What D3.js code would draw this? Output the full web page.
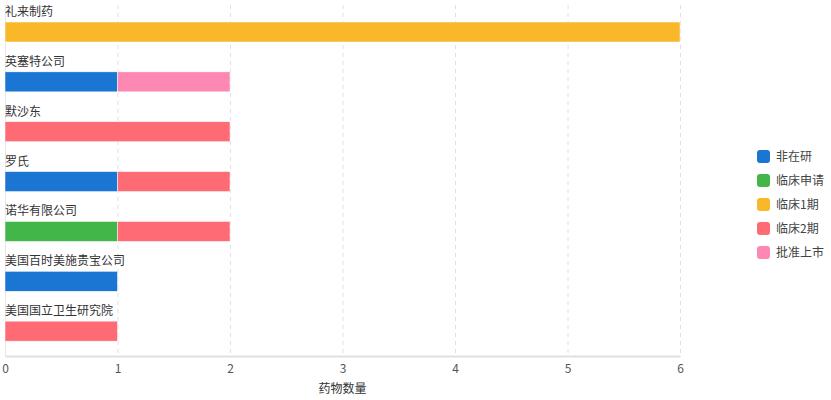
<!DOCTYPE html>
<html>
<head>
<meta charset="utf-8">
<script src="https://cdn.jsdelivr.net/npm/d3@7"></script>
<style>
  html, body { margin: 0; padding: 0; background: #fff; }
  svg { display: block; font-family: "Noto Sans CJK SC", "Noto Sans", sans-serif; }
</style>
</head>
<body>
<svg id="chart" width="831" height="400"></svg>
<script>
// Companies (top to bottom) and drug counts per development stage
const companies = ["礼来制药", "英塞特公司", "默沙东", "罗氏", "诺华有限公司", "美国百时美施贵宝公司", "美国国立卫生研究院"];
const stages = ["非在研", "临床申请", "临床1期", "临床2期", "批准上市"];
const stageColors = ["#1a76d2", "#43b649", "#f8b82a", "#fe6b74", "#fd88b4"];
const s_notActive   = [0, 1, 0, 1, 0, 1, 0];
const s_application = [0, 0, 0, 0, 1, 0, 0];
const s_phase1      = [6, 0, 0, 0, 0, 0, 0];
const s_phase2      = [0, 0, 2, 1, 1, 0, 1];
const s_approved    = [0, 1, 0, 0, 0, 0, 0];
const xTicks = [0, 1, 2, 3, 4, 5, 6];
const xTitle = "药物数量";

const seriesValues = [s_notActive, s_application, s_phase1, s_phase2, s_approved];
const rows = companies.map((c, i) => {
  const r = { company: c };
  stages.forEach((s, k) => { r[s] = seriesValues[k][i]; });
  return r;
});

const svg = d3.select("#chart");
const margin = { left: 5, right: 151, top: 7, bottom: 44 };
const W = 831, H = 400;

const x = d3.scaleLinear().domain([0, 6]).range([margin.left, W - margin.right]);
const y = d3.scaleBand().domain(companies).range([margin.top, H - margin.bottom]).paddingInner(0).paddingOuter(0);
const color = d3.scaleOrdinal().domain(stages).range(stageColors);

// vertical dashed grid
svg.append("g").selectAll("line").data(xTicks.filter(d => d > 0)).join("line")
  .attr("x1", d => x(d) + 0.5).attr("x2", d => x(d) + 0.5)
  .attr("y1", margin.top - 2).attr("y2", H - margin.bottom)
  .attr("stroke", "#e0e0e0").attr("stroke-dasharray", "4,4");

// left axis line
svg.append("line")
  .attr("x1", x(0) + 0.5).attr("x2", x(0) + 0.5)
  .attr("y1", margin.top - 2).attr("y2", H - margin.bottom)
  .attr("stroke", "#e6e6e6");

const stacked = d3.stack().keys(stages)(rows);
const barH = 20;
const barOffset = 15;

svg.append("g").selectAll("g").data(stacked).join("g")
  .attr("fill", d => color(d.key))
  .selectAll("rect").data(d => d).join("rect")
  .attr("x", d => x(d[0]))
  .attr("width", d => x(d[1]) - x(d[0]))
  .attr("y", d => y(d.data.company) + barOffset)
  .attr("height", barH)
  .attr("stroke", "#fff").attr("stroke-width", 0.5);

// category labels above bars
svg.append("g").selectAll("text").data(companies).join("text")
  .attr("x", x(0))
  .attr("y", d => y(d) + 9)
  .attr("font-size", 12).attr("fill", "#333")
  .text(d => d);

// bottom axis
const xAxis = d3.axisBottom(x).tickValues(xTicks).tickFormat(d3.format("d")).tickSize(0).tickPadding(8);
const gx = svg.append("g").attr("transform", `translate(0,${H - margin.bottom})`).call(xAxis);
gx.select(".domain").attr("stroke", "#e0e0e0").attr("stroke-width", 2);
gx.selectAll("text").attr("font-size", 12).attr("fill", "#555").attr("font-family", "Noto Sans CJK SC, sans-serif");

svg.append("text")
  .attr("x", (x(0) + x(6)) / 2).attr("y", 393)
  .attr("text-anchor", "middle").attr("font-size", 12).attr("fill", "#333")
  .text(xTitle);

// legend
const lg = svg.append("g").attr("transform", "translate(757,150)");
const li = lg.selectAll("g").data(stages).join("g")
  .attr("transform", (d, i) => `translate(0,${i * 24})`);
li.append("rect").attr("width", 13).attr("height", 13).attr("rx", 3)
  .attr("fill", d => color(d));
li.append("text").attr("x", 19).attr("y", 11).attr("font-size", 12).attr("fill", "#444")
  .text(d => d);
</script>
</body>
</html>
